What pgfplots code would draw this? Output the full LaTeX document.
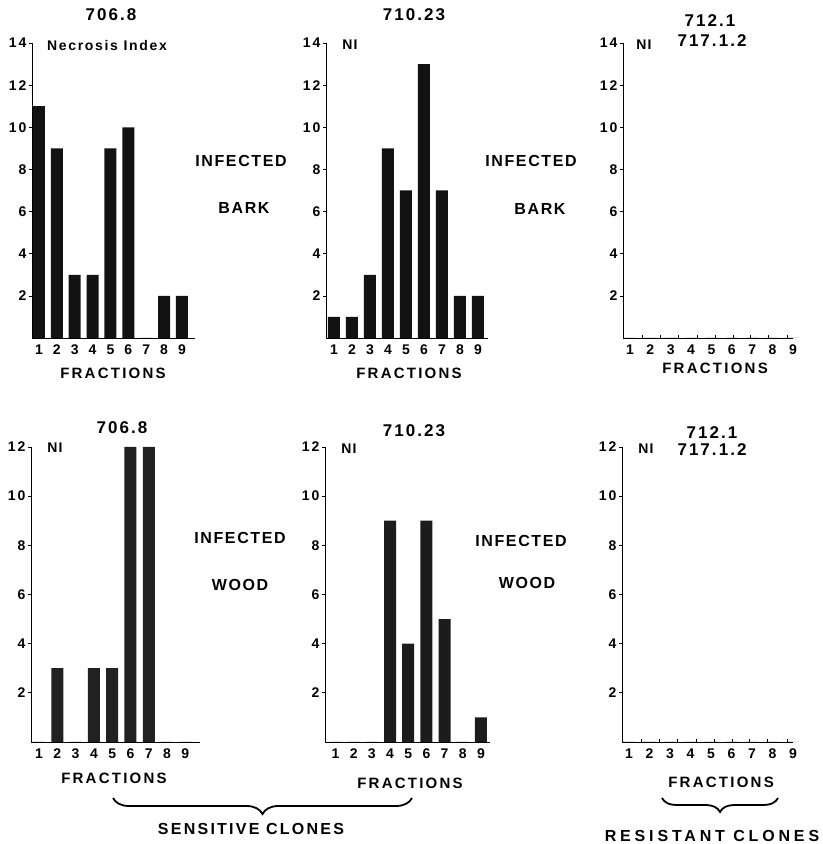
\documentclass[border=0pt]{standalone}
\usepackage{pgfplots}
\pgfplotsset{compat=1.18}
\usepackage{fontspec}
\setmainfont{Liberation Sans}
\usetikzlibrary{decorations.pathreplacing}

\newcommand{\fs}[2]{\fontsize{#1bp}{#1bp}\selectfont\bfseries\addfontfeature{LetterSpace=#2}}

\pgfplotsset{
  panel/.style={
    scale only axis, anchor=south west,
    height=295bp,
    axis x line*=bottom, axis y line*=left,
    ymin=0, xtick={1,...,9},
    ybar, bar width=12bp,
    tick align=outside,
    major tick length=3bp,
    x tick style={draw=none},
    y tick style={line width=0.7bp, black},
    axis line style={line width=0.8bp, black},
    xticklabel style={font=\fs{14}{0}},
    yticklabel style={font=\fs{14}{15}, xshift=1bp},
    /pgf/number format/assume math mode=true,
    clip=false, enlargelimits=false,
  },
  topp/.style={panel, ymax=14, ytick={2,4,...,14}},
  botp/.style={panel, ymax=12, ytick={2,4,...,12}},
  emptyx/.style={
    extra x ticks={1.59,2.47,3.35,4.28,5.17,6.05,6.88,7.77,8.71},
    extra x tick labels={},
    extra x tick style={x tick style={draw=black, line width=0.6bp}, tick align=inside, major tick length=3bp},
  },
}

\begin{document}
\begin{tikzpicture}
\useasboundingbox (0,0) rectangle (823bp,844bp);

% ---------- Top row: infected bark ----------
\begin{axis}[topp, at={(32bp,506bp)}, width=163bp, xmin=0.61, xmax=9.73]
\addplot[fill=black!93, draw=none] coordinates {
(1,11) (2,9) (3,3) (4,3) (5,9) (6,10) (7,0) (8,2) (9,2)};
\end{axis}

\begin{axis}[topp, at={(326bp,506bp)}, width=162bp, xmin=0.56, xmax=9.56]
\addplot[fill=black!93, draw=none] coordinates {
(1,1) (2,1) (3,3) (4,9) (5,7) (6,13) (7,7) (8,2) (9,2)};
\end{axis}

\begin{axis}[topp, emptyx, at={(623bp,506bp)}, width=170bp, xmin=0.657, xmax=9.0]
\addplot[fill=black!93, draw=none] coordinates {
(1,0) (2,0) (3,0) (4,0) (5,0) (6,0) (7,0) (8,0) (9,0)};
\end{axis}

% ---------- Bottom row: infected wood ----------
\begin{axis}[botp, at={(31bp,102bp)}, width=169bp, xmin=0.56, xmax=9.8]
\addplot[fill=black!87, draw=none] coordinates {
(1,0) (2,3) (3,0) (4,3) (5,3) (6,12) (7,12) (8,0) (9,0)};
\end{axis}

\begin{axis}[botp, at={(325bp,102bp)}, width=165bp, xmin=0.42, xmax=9.5]
\addplot[fill=black!89, draw=none] coordinates {
(1,0) (2,0) (3,0) (4,9) (5,4) (6,9) (7,5) (8,0) (9,1)};
\end{axis}

\begin{axis}[botp, emptyx, at={(622bp,102bp)}, width=171bp, xmin=0.66, xmax=9.0]
\addplot[fill=black!89, draw=none] coordinates {
(1,0) (2,0) (3,0) (4,0) (5,0) (6,0) (7,0) (8,0) (9,0)};
\end{axis}

% ---------- Texts ----------
\node[font=\fs{17}{12}] at (111bp,829bp) {706.8};
\node[font=\fs{17}{12}] at (414bp,829bp) {710.23};
\node[font=\fs{17}{12}] at (710bp,823bp) {712.1};
\node[font=\fs{17}{12}] at (712bp,803bp) {717.1.2};
\node[font=\fs{14}{12}] at (107bp,798bp) {Necrosis Index};
\node[font=\fs{14}{8}] at (350bp,799bp) {NI};
\node[font=\fs{14}{8}] at (644bp,799bp) {NI};

\node[font=\fs{17}{12}] at (122bp,416bp) {706.8};
\node[font=\fs{17}{12}] at (414bp,413bp) {710.23};
\node[font=\fs{17}{12}] at (712bp,411bp) {712.1};
\node[font=\fs{17}{12}] at (712bp,394bp) {717.1.2};
\node[font=\fs{14}{8}] at (55bp,396bp) {NI};
\node[font=\fs{14}{8}] at (349bp,395bp) {NI};
\node[font=\fs{14}{8}] at (646bp,395bp) {NI};

\node[font=\fs{16}{10}] at (241bp,683bp) {INFECTED};
\node[font=\fs{16}{10}] at (244bp,636bp) {BARK};
\node[font=\fs{16}{10}] at (531bp,683bp) {INFECTED};
\node[font=\fs{16}{10}] at (540bp,635bp) {BARK};
\node[font=\fs{16}{10}] at (240bp,306bp) {INFECTED};
\node[font=\fs{16}{10}] at (240bp,259bp) {WOOD};
\node[font=\fs{16}{10}] at (521bp,303bp) {INFECTED};
\node[font=\fs{16}{10}] at (527bp,261bp) {WOOD};

\node[font=\fs{15}{15}] at (113bp,471bp) {FRACTIONS};
\node[font=\fs{15}{15}] at (409bp,471bp) {FRACTIONS};
\node[font=\fs{15}{15}] at (715bp,476bp) {FRACTIONS};
\node[font=\fs{15}{15}] at (114bp,66bp) {FRACTIONS};
\node[font=\fs{15}{15}] at (410bp,61bp) {FRACTIONS};
\node[font=\fs{15}{15}] at (721bp,62bp) {FRACTIONS};

\draw[line width=1.8bp, decorate, decoration={brace, mirror, amplitude=16bp, aspect=0.5}]
  (113bp,46bp) -- (412bp,46bp);
\draw[line width=1.8bp, decorate, decoration={brace, mirror, amplitude=14bp, aspect=0.5}]
  (662bp,46bp) -- (778bp,46bp);
\node[font=\fs{16}{14}] at (251bp,15bp) {SENSITIVE CLONES};
\node[font=\fs{16}{24}] at (712bp,8bp) {RESISTANT CLONES};
\end{tikzpicture}
\end{document}
